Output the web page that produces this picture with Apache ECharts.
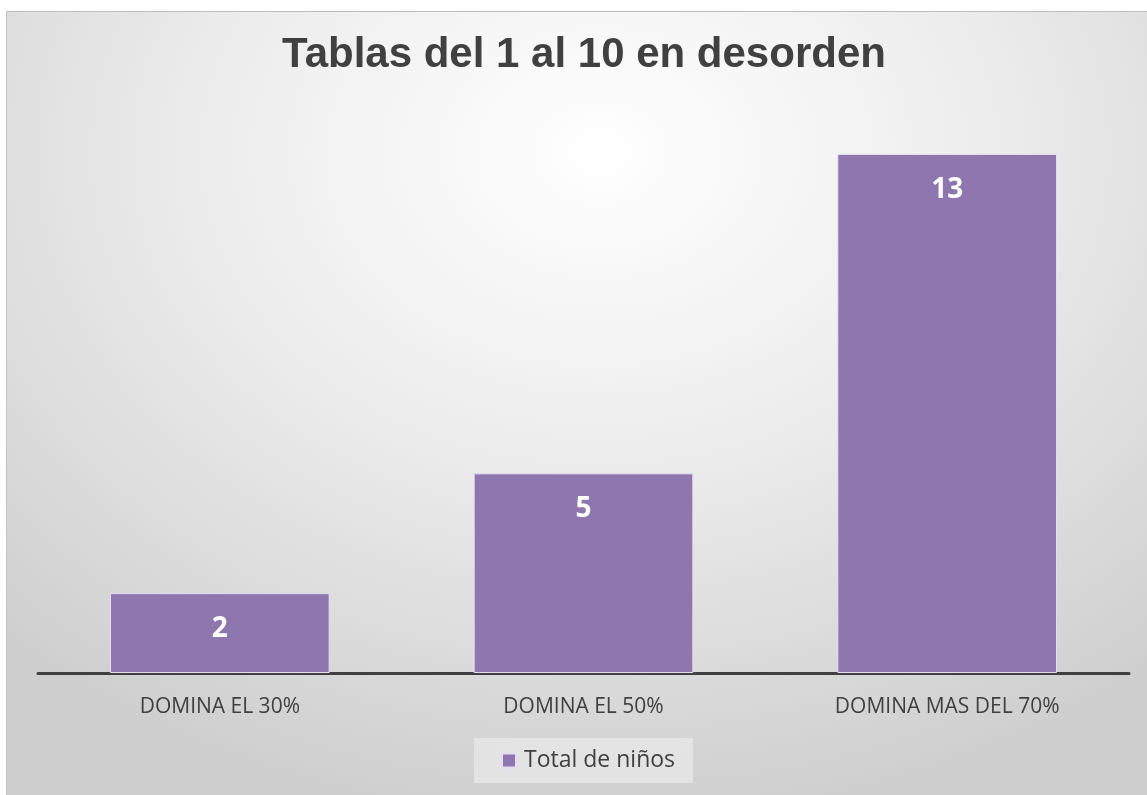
<!DOCTYPE html>
<html>
<head>
<meta charset="utf-8">
<script src="https://cdn.jsdelivr.net/npm/echarts@6/dist/echarts.min.js"></script>
<style>
  html, body { margin: 0; padding: 0; background: #fff; }
  #chart {
    position: absolute; left: 6px; top: 11px; width: 1141px; height: 784px;
    border-top: 1px solid #bdbdbd; border-left: 1px solid #c4c4c4; box-sizing: border-box;
    background: radial-gradient(ellipse 75% 85% at 52% 18%, #ffffff 0%, #ededed 45%, #cfcfcf 100%);
  }
</style>
</head>
<body>
<div id="chart"></div>
<script>
var categories = ['DOMINA EL 30%', 'DOMINA EL 50%', 'DOMINA MAS DEL 70%'];
var totalNinos = [2, 5, 13];
var seriesName = 'Total de niños';

var chart = echarts.init(document.getElementById('chart'));

var option = {
    title: {
        text: 'Tablas del 1 al 10 en desorden',
        left: 572,
        textAlign: 'center',
        top: 17,
        textStyle: {
            fontFamily: 'Liberation Sans, Arial',
            fontSize: 42,
            fontWeight: 'bold',
            color: '#404040'
        }
    },
    legend: {
        data: [seriesName],
        bottom: 12,
        left: 467,
        backgroundColor: 'rgba(232,232,232,0.75)',
        padding: [11, 18, 11, 27],
        itemWidth: 14,
        itemHeight: 14,
        itemGap: 8,
        icon: 'rect',
        textStyle: {
            fontFamily: 'Open Sans',
            fontSize: 23,
            color: '#404040',
            padding: [0, 0, 0, 3]
        }
    },
    grid: {
        left: 31,
        right: 18,
        top: 102,
        bottom: 122
    },
    xAxis: {
        type: 'category',
        data: categories,
        axisTick: { show: false },
        axisLine: { lineStyle: { color: '#404040', width: 3 } },
        axisLabel: {
            margin: 24,
            fontFamily: 'Open Sans',
            fontSize: 21,
            color: '#404040'
        }
    },
    yAxis: {
        type: 'value',
        min: 0,
        max: 14,
        show: false,
        splitLine: { show: false }
    },
    series: [{
        name: seriesName,
        type: 'bar',
        data: totalNinos,
        barWidth: '60.4%',
        itemStyle: {
            color: '#8e76ae',
            borderColor: '#e6def0',
            borderWidth: 1
        },
        label: {
            show: true,
            position: 'insideTop',
            distance: 22,
            fontFamily: 'Open Sans',
            fontSize: 28,
            fontWeight: 'bold',
            color: '#ffffff'
        }
    }]
};

chart.setOption(option);
</script>
</body>
</html>
